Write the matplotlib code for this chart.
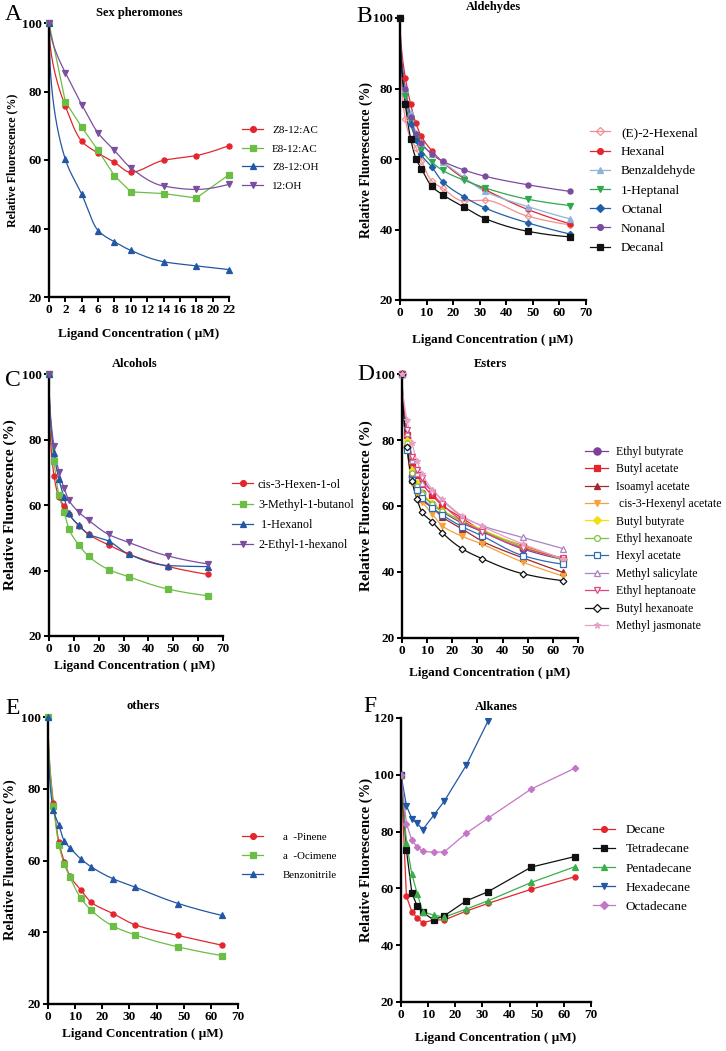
import numpy as np
import matplotlib
matplotlib.use("Agg")
import matplotlib.pyplot as plt
from matplotlib.lines import Line2D

plt.rcParams['font.family'] = ['Liberation Serif', 'DejaVu Serif']

# ---------------- DATA ----------------
# Panel A: sex pheromones
xA = [0, 2, 4, 6, 8, 10, 14, 18, 22]
z8_12_ac = [100, 75.7, 65.5, 62.0, 59.3, 56.4, 59.9, 61.3, 64.2]
e8_12_ac = [100, 77.0, 69.6, 62.8, 55.4, 50.7, 50.2, 48.9, 55.7]
z8_12_oh = [100, 60.2, 50.0, 39.4, 36.1, 33.6, 30.3, 29.1, 28.0]
oh_12 = [100, 85.5, 76.2, 67.9, 62.8, 57.7, 52.4, 51.4, 52.9]
labelsA = ["Z8-12:AC", "E8-12:AC", "Z8-12:OH", "12:OH"]

# common concentrations for panels B-F
xC = [0, 2, 4, 6, 8, 12, 16, 24, 32, 48, 64]

# Panel B: aldehydes
e2_hexenal = [100, 71.3, 65.7, 63.2, 59.5, 53.7, 51.7, 48.1, 48.3, 43.8, 41.3]
hexanal = [100, 83.1, 75.6, 70.1, 66.5, 62.3, 59.2, 54.5, 51.3, 45.7, 41.6]
benzaldehyde = [100, 80.0, 73.0, 67.5, 64.5, 61.5, 59.2, 54.8, 50.8, 46.5, 43.0]
heptanal = [100, 78.0, 71.0, 66.0, 62.6, 59.1, 56.8, 54.0, 51.8, 48.6, 46.8]
octanal = [100, 76.0, 69.8, 65.5, 61.3, 57.7, 53.6, 49.3, 46.1, 41.9, 38.7]
nonanal = [100, 80.0, 72.0, 67.0, 64.6, 61.3, 59.4, 56.9, 55.1, 52.7, 50.8]
decanal = [100, 75.5, 65.8, 60.1, 57.3, 52.2, 49.9, 46.4, 43.1, 39.5, 37.9]
labelsB = ["(E)-2-Hexenal", "Hexanal", "Benzaldehyde", "1-Heptanal",
           "Octanal", "Nonanal", "Decanal"]

# Panel C: alcohols
cis3_hexenol = [100, 69.0, 62.3, 59.8, 57.2, 53.7, 51.0, 47.8, 45.0, 41.2, 38.8]
methylbutanol = [100, 73.3, 63.0, 58.0, 52.7, 47.8, 44.3, 40.3, 38.1, 34.3, 32.3]
hexanol = [100, 76.0, 67.8, 62.5, 57.5, 53.8, 51.1, 49.0, 45.0, 41.5, 41.2]
ethylhexanol = [100, 78.0, 70.2, 65.3, 61.5, 57.8, 55.3, 51.0, 48.6, 44.4, 42.0]
labelsC = ["cis-3-Hexen-1-ol", "3-Methyl-1-butanol", " 1-Hexanol", "2-Ethyl-1-hexanol"]

# Panel D: esters
ethyl_butyrate = [100, 78.0, 69.0, 66.5, 64.0, 60.5, 58.3, 54.8, 52.2, 47.0, 43.8]
butyl_acetate = [100, 81.5, 73.2, 69.5, 66.8, 63.2, 60.2, 56.3, 52.5, 48.0, 44.0]
isoamyl_acetate = [100, 79.0, 70.5, 66.0, 62.0, 59.5, 56.7, 53.0, 49.3, 44.3, 39.9]
cis3_hexenyl_acetate = [100, 77.0, 67.0, 63.5, 61.3, 57.6, 54.0, 50.8, 48.4, 43.0, 38.8]
butyl_butyrate = [100, 80.0, 71.0, 67.0, 64.0, 61.0, 58.8, 55.5, 52.8, 47.8, 44.0]
ethyl_hexanoate = [100, 79.0, 70.0, 66.0, 63.5, 60.5, 58.5, 55.3, 52.5, 47.6, 43.8]
hexyl_acetate = [100, 77.0, 68.0, 65.0, 62.5, 59.5, 57.3, 53.7, 50.9, 45.0, 42.4]
methyl_salicylate = [100, 82.0, 74.0, 70.0, 67.0, 64.8, 61.8, 56.8, 54.0, 50.5, 47.1]
ethyl_heptanoate = [100, 83.0, 75.0, 71.0, 68.5, 64.0, 60.5, 55.5, 52.2, 47.3, 44.3]
butyl_hexanoate = [100, 78.0, 67.5, 62.0, 58.1, 55.2, 51.9, 47.0, 44.0, 39.5, 37.4]
methyl_jasmonate = [100, 86.0, 79.0, 73.5, 69.8, 65.0, 62.0, 57.0, 53.8, 48.5, 44.0]
labelsD = ["Ethyl butyrate", "Butyl acetate", "Isoamyl acetate", " cis-3-Hexenyl acetate",
           "Butyl butyrate", "Ethyl hexanoate", "Hexyl acetate", "Methyl salicylate",
           "Ethyl heptanoate", "Butyl hexanoate", "Methyl jasmonate"]

# Panel E: others
a_pinene = [100, 76.0, 65.2, 59.7, 55.8, 51.9, 48.3, 45.2, 42.1, 39.1, 36.4]
a_ocimene = [100, 75.2, 64.4, 59.0, 55.5, 49.6, 46.1, 41.7, 39.3, 35.9, 33.5]
benzonitrile = [100, 74.1, 69.9, 65.4, 63.6, 60.5, 58.2, 54.9, 52.6, 48.0, 44.7]
labelsE = ["a  -Pinene", "a  -Ocimene", "Benzonitrile"]

# Panel F: alkanes
decane = [100, 57.2, 51.8, 49.6, 47.9, 48.9, 48.9, 52.0, 54.7, 59.7, 64.1]
tetradecane = [100, 73.5, 58.4, 53.7, 51.6, 48.9, 50.4, 55.6, 58.8, 67.5, 71.2]
pentadecane = [100, 76.1, 65.0, 58.1, 51.8, 50.6, 49.9, 52.7, 55.6, 62.1, 67.6]
hexadecane = [100, 89.1, 84.6, 82.9, 80.7, 85.7, 90.8, 103.3, 118.8, 150.0, 175.0]
octadecane = [100, 82.8, 77.0, 74.5, 73.1, 72.7, 72.9, 79.4, 84.7, 95.0, 102.3]
labelsF = ["Decane", "Tetradecane", "Pentadecane", "Hexadecane", "Octadecane"]


# ---------------- helpers ----------------
def smooth(x, y, n=500):
    """monotone cubic (PCHIP) curve through the data points in sqrt(x) space,
    used only to draw a smooth line"""
    x = np.asarray(x, float); y = np.asarray(y, float)
    u = np.sqrt(x)
    h = np.diff(u); d = np.diff(y) / h
    m = np.zeros_like(y)
    for k in range(1, len(u) - 1):
        if d[k - 1] * d[k] > 0:
            w1 = 2 * h[k] + h[k - 1]; w2 = h[k] + 2 * h[k - 1]
            m[k] = (w1 + w2) / (w1 / d[k - 1] + w2 / d[k])

    def ends(h0, h1, d0, d1):
        s = ((2 * h0 + h1) * d0 - h0 * d1) / (h0 + h1)
        if np.sign(s) != np.sign(d0):
            s = 0.0
        elif np.sign(d0) != np.sign(d1) and abs(s) > abs(3 * d0):
            s = 3 * d0
        return s
    m[0] = ends(h[0], h[1], d[0], d[1])
    m[-1] = ends(h[-1], h[-2], d[-1], d[-2])
    us = np.linspace(u[0], u[-1], n)
    i = np.clip(np.searchsorted(u, us) - 1, 0, len(h) - 1)
    t = (us - u[i]) / h[i]
    ys = ((2 * t**3 - 3 * t**2 + 1) * y[i] + (t**3 - 2 * t**2 + t) * h[i] * m[i]
          + (-2 * t**3 + 3 * t**2) * y[i + 1] + (t**3 - t**2) * h[i] * m[i + 1])
    return us**2, ys


W, H = 726, 1051
fig = plt.figure(figsize=(W / 100, H / 100), dpi=100)


def fx(px):
    return px / W


def fy(py):
    return 1 - py / H


def make_axes(l, t, r, b, xmax, xticks, ymin, ymax, yticks, tick_fs):
    ax = fig.add_axes([fx(l), fy(b), fx(r) - fx(l), fy(t) - fy(b)])
    ax.set_xlim(0, xmax)
    ax.set_ylim(ymin, ymax)
    ax.set_xticks(xticks)
    ax.set_yticks(yticks)
    for s in ['top', 'right']:
        ax.spines[s].set_visible(False)
    for s in ['left', 'bottom']:
        ax.spines[s].set_linewidth(1.7)
    ax.tick_params(direction='out', length=3.5, width=1.4, pad=1.5,
                   labelsize=tick_fs)
    for lab in ax.get_xticklabels() + ax.get_yticklabels():
        lab.set_fontweight('bold')
    return ax


def plot_series(ax, x, y, color, marker, mfc=None, smooth_line=True, ms=3.7, lw=0.9):
    if smooth_line:
        xs, ys = smooth(x, y)
        ax.plot(xs, ys, color=color, lw=lw, zorder=2)
    else:
        ax.plot(x, y, color=color, lw=lw, zorder=2)
    ax.plot(x, y, ls='none', marker=marker, color=color, ms=ms,
            mfc=color if mfc is None else mfc, mec=color, mew=0.9,
            clip_on=False, zorder=3)
    return Line2D([], [], color=color, lw=lw, marker=marker, ms=ms + 0.5,
                  mfc=color if mfc is None else mfc, mec=color, mew=0.9)


def add_legend(ax, handles, labels, x_left, y_center, fs, spacing_px, hl_px, pad_px):
    fs_px = fs * 100 / 72
    leg = ax.legend(handles, labels, loc='center left',
                    bbox_to_anchor=(fx(x_left), fy(y_center)),
                    bbox_transform=fig.transFigure, frameon=False,
                    fontsize=fs, borderaxespad=0, borderpad=0,
                    handlelength=hl_px / fs_px, handletextpad=pad_px / fs_px,
                    labelspacing=max(spacing_px - 1.2 * fs_px, 0) / fs_px,
                    numpoints=1)
    return leg


def decorate(letter, lpos, title, tpos, xlab_pos, ylab_pos, ylab_fs, xlab_fs=9.5, title_fs=9):
    fig.text(fx(lpos[0]), fy(lpos[1]), letter, fontsize=17, ha='left', va='center')
    fig.text(fx(tpos[0]), fy(tpos[1]), title, fontsize=title_fs, fontweight='bold',
             ha='center', va='center')
    fig.text(fx(xlab_pos[0]), fy(xlab_pos[1]), "Ligand Concentration ( \u03bcM)",
             fontsize=xlab_fs, fontweight='bold', ha='center', va='center')
    fig.text(fx(ylab_pos[0]), fy(ylab_pos[1]), "Relative Fluorescence (%)",
             fontsize=ylab_fs, fontweight='bold', ha='center', va='center', rotation=90)


ticks70 = list(range(0, 71, 10))
yt100 = [20, 40, 60, 80, 100]

# ---------------- Panel A ----------------
axA = make_axes(49, 23, 229, 297, 22, list(range(0, 23, 2)), 20, 100, yt100, 9.5)
hA = [plot_series(axA, xA, z8_12_ac, '#e3262d', 'o'),
      plot_series(axA, xA, e8_12_ac, '#6cbd45', 's', smooth_line=False),
      plot_series(axA, xA, z8_12_oh, '#2157a4', '^'),
      plot_series(axA, xA, oh_12, '#7b4fa0', 'v')]
add_legend(axA, hA, labelsA, 242, 158, 8, 22, 21, 9)
decorate("A", (5, 15), "Sex pheromones", (139, 13), (139, 334), (12, 160), 8.6)

# ---------------- Panel B ----------------
axB = make_axes(400, 18, 586, 300, 70, ticks70, 20, 100, yt100, 9.5)
hB = [plot_series(axB, xC, e2_hexenal, '#f08f8f', 'D', mfc='none', ms=3.2),
      plot_series(axB, xC, hexanal, '#e3262d', 'o'),
      plot_series(axB, xC, benzaldehyde, '#8fb3dc', '^'),
      plot_series(axB, xC, heptanal, '#2fa84f', 'v'),
      plot_series(axB, xC, octanal, '#1f5fa8', 'D', ms=3.2),
      plot_series(axB, xC, nonanal, '#7b4ba0', 'o'),
      plot_series(axB, xC, decanal, '#111111', 's')]
add_legend(axB, hB, labelsB, 590, 190.5, 9.5, 22.8, 20, 11)
decorate("B", (356, 16), "Aldehydes", (493, 7), (493, 340), (366, 160), 10)

# ---------------- Panel C ----------------
axC = make_axes(49, 374, 223, 636, 70, ticks70, 20, 100, yt100, 9.5)
hC = [plot_series(axC, xC, cis3_hexenol, '#e3262d', 'o'),
      plot_series(axC, xC, methylbutanol, '#6cbd45', 's'),
      plot_series(axC, xC, hexanol, '#2157a4', '^'),
      plot_series(axC, xC, ethylhexanol, '#7b4fa0', 'v')]
add_legend(axC, hC, labelsC, 232, 515, 8.7, 22.7, 21, 5)
decorate("C", (5, 381), "Alcohols", (135, 364), (135, 666), (10, 505), 11)

# ---------------- Panel D ----------------
axD = make_axes(402, 374, 578, 638, 70, ticks70, 20, 100, yt100, 9.5)
hD = [plot_series(axD, xC, ethyl_butyrate, '#7f3f98', 'o', ms=4.7),
      plot_series(axD, xC, butyl_acetate, '#e5232a', 's'),
      plot_series(axD, xC, isoamyl_acetate, '#a2282e', '^'),
      plot_series(axD, xC, cis3_hexenyl_acetate, '#f4a23c', 'v'),
      plot_series(axD, xC, butyl_butyrate, '#f0e010', 'D', ms=3.2),
      plot_series(axD, xC, ethyl_hexanoate, '#7dc242', 'o', mfc='white'),
      plot_series(axD, xC, hexyl_acetate, '#2e6db4', 's', mfc='white'),
      plot_series(axD, xC, methyl_salicylate, '#a884c4', '^', mfc='white'),
      plot_series(axD, xC, ethyl_heptanoate, '#e0457b', 'v', mfc='white'),
      plot_series(axD, xC, butyl_hexanoate, '#111111', 'D', mfc='white', ms=3.4),
      plot_series(axD, xC, methyl_jasmonate, '#e8a0c4', '*', ms=4.2)]
add_legend(axD, hD, labelsD, 585, 539, 8.5, 19.6, 23, 8)
decorate("D", (357, 374), "Esters", (490, 364), (490, 673), (366, 506), 11)

# ---------------- Panel E ----------------
axE = make_axes(48, 717, 238, 1004, 70, ticks70, 20, 100, yt100, 9.5)
hE = [plot_series(axE, xC, a_pinene, '#e3262d', 'o'),
      plot_series(axE, xC, a_ocimene, '#6cbd45', 's'),
      plot_series(axE, xC, benzonitrile, '#2157a4', '^')]
add_legend(axE, hE, labelsE, 242, 856, 7.8, 22.5, 21, 20)
decorate("E", (5, 708), "others", (143, 706), (143, 1034), (10, 860), 10.3)

# ---------------- Panel F ----------------
axF = make_axes(401, 718, 591, 1002, 70, ticks70, 20, 120,
                [20, 40, 60, 80, 100, 120], 9.5)
hF = [plot_series(axF, xC, decane, '#e3262d', 'o', smooth_line=False),
      plot_series(axF, xC, tetradecane, '#111111', 's', smooth_line=False),
      plot_series(axF, xC, pentadecane, '#3cae49', '^', smooth_line=False),
      plot_series(axF, xC, hexadecane, '#2157a4', 'v', smooth_line=False),
      plot_series(axF, xC, octadecane, '#c475c6', 'D', smooth_line=False, ms=3.2)]
for ln in axF.lines:
    ln.set_clip_on(True)
add_legend(axF, hF, labelsF, 593, 868.5, 9.5, 22.8, 22, 11)
decorate("F", (363, 707), "Alkanes", (496, 707), (496, 1038), (366, 860), 10.5)

fig.savefig("out.png", dpi=100)
